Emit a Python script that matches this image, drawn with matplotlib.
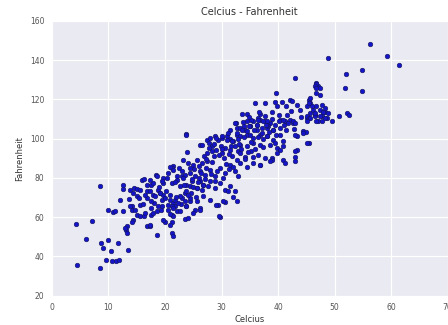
import numpy as np
import matplotlib
matplotlib.use("Agg")
import matplotlib.pyplot as plt
import seaborn as sns

# temperatura en Celcius (x) y Fahrenheit (y)
celcius = [
    4.2, 4.5, 6.0, 7.1, 8.5, 8.5, 8.6, 9.1, 9.6, 10.0, 10.5, 10.7, 11.3, 11.8, 11.7, 13.5,
    10.0, 10.8, 11.2, 12.5, 12.0, 12.5, 12.6, 13.8, 14.6, 15.0, 16.8, 16.8, 13.7, 15.0,
    15.4, 16.8, 14.1, 14.2, 15.0, 15.6, 16.2, 14.4, 14.1, 13.2, 13.1, 13.3, 16.8, 17.3,
    12.9, 17.6, 17.9, 17.3, 15.9, 16.3, 17.6, 17.9, 17.9,
    18.4, 19.7, 19.6, 20.6, 21.5, 21.2, 22.1, 23.0, 18.8, 19.1, 19.7, 19.4, 20.9, 21.5,
    21.8, 23.0, 23.5, 23.8, 21.2, 21.5, 22.1, 20.0, 21.2, 20.9, 19.7, 18.5, 21.2, 21.5,
    21.2, 23.5, 24.1, 23.8, 24.4, 23.8,
    24.4, 25.0, 25.6, 26.2, 26.8, 25.3, 26.2, 29.7, 29.4, 30.6, 32.7,
    23.7, 23.9, 26.2, 27.4, 28.0, 28.8, 29.4, 30.0, 30.9, 31.5, 32.1, 32.7, 32.6,
    27.4, 28.3, 29.1, 30.0, 30.6, 31.5, 32.4, 33.0, 23.2, 24.1, 25.0, 25.6, 26.5,
    20.9, 21.5, 22.4, 23.0, 23.5, 24.4, 25.3, 26.2, 27.1, 28.0, 28.8, 29.7, 30.6, 31.5,
    32.4, 33.0, 17.3, 18.5, 19.4, 20.3, 21.2, 22.1, 22.7, 23.8, 24.7, 25.6, 26.8, 28.0,
    28.8, 29.7, 30.6, 31.5, 32.4, 14.4, 15.6, 16.5, 17.3, 18.2, 19.1, 20.0, 20.9, 21.8,
    22.7, 23.5, 24.4, 25.6, 26.8, 28.0, 29.1, 30.3, 31.2, 32.1, 13.8, 14.7, 15.6, 16.5,
    17.6, 18.5, 19.4, 20.6, 21.5, 22.7, 23.8, 25.0, 26.2, 29.6,
    43.0, 46.8, 47.1, 47.4, 39.6, 35.9, 37.7, 39.5, 40.7, 42.1, 43.3, 43.9, 39.8, 41.5,
    45.4, 45.7, 46.0, 46.8, 47.4, 48.3, 48.9, 45.7, 46.5, 47.7, 45.1, 47.1, 32.4, 34.5,
    35.6, 36.8, 37.7, 38.6, 39.5, 40.4, 41.2, 42.1, 42.7, 31.5, 32.7, 33.9, 35.0, 36.2,
    38.0, 39.2, 41.5, 44.5, 43.3, 45.4, 43.3, 43.0, 38.9, 36.8, 32.1,
    56.2, 48.8, 59.3, 61.4, 52.0, 54.9, 51.9, 54.8, 46.7, 46.5, 46.8, 46.7, 47.4, 45.2,
    47.7, 46.2, 48.0, 48.3, 45.1, 45.4, 46.5, 48.6, 47.7, 49.6, 50.8, 52.2, 52.6, 45.0,
    33.6, 34.5, 42.4, 45.7, 45.4, 46.5, 47.4, 48.0, 48.3, 46.8, 45.7, 45.1, 35.3, 36.5,
    37.7, 38.0, 38.9, 40.1, 40.9, 41.8, 42.7, 43.0, 33.3, 34.2, 35.0, 36.2, 37.1, 38.3,
    39.2, 40.4, 33.3, 34.5, 35.6, 36.8, 38.0, 39.2, 40.4, 40.9, 43.0, 44.5, 45.1, 33.3,
    34.5, 35.6, 36.8, 38.6, 39.8, 40.4, 40.9, 33.3, 34.2, 35.3, 36.5, 37.7, 38.9, 39.8,
    40.9, 43.0, 43.0, 33.3, 34.5, 35.6, 36.8, 38.6, 41.2,
    32.7, 33.6, 34.5, 35.0, 36.2, 37.1, 38.0, 29.1, 30.0, 30.9, 31.8, 26.5, 27.7, 28.3,
    37.4, 38.0, 36.5,
    25.1, 26.9, 27.8, 28.6, 29.9, 31.2, 32.9, 33.8, 34.9, 35.7, 36.9, 37.9, 39.0, 40.2, 41.0, 42.3,
    26.0, 27.2, 28.4, 29.5, 30.4, 31.7, 33.1, 34.0, 35.2, 36.4, 37.4, 38.4, 39.6,
    24.6, 25.9, 27.0, 28.1, 29.2, 30.8, 31.9, 33.5, 34.7, 36.0, 37.3,
    22.9, 24.0, 25.4, 26.6, 27.6, 28.9, 30.2, 31.4, 32.8, 34.1, 35.5,
    20.5, 22.0, 23.3, 24.8, 26.3, 27.5, 28.7, 30.1, 31.3,
    19.0, 20.2, 21.7, 23.1, 24.5, 26.0, 27.3,
    18.0, 19.3, 20.8, 22.3, 16.1, 17.5, 18.7,
    41.6, 42.9, 44.0, 39.4, 36.6, 34.8,
]
fahrenheit = [
    56.7, 35.6, 48.9, 58.3, 34.2, 75.7, 46.8, 44.5, 38.2, 48.3, 42.9, 37.5, 37.8, 38.0, 46.8, 43.4,
    63.6, 62.5, 63.2, 62.9, 68.9, 76.5, 74.3, 74.0, 74.8, 74.3, 76.5, 73.1, 69.2, 70.6,
    69.7, 69.7, 63.8, 65.5, 61.2, 60.4, 60.7, 58.7, 57.3, 55.3, 53.6, 51.9, 55.3, 55.6,
    54.5, 61.2, 62.1, 56.1, 79.1, 79.4, 76.5, 77.4, 71.4,
    81.6, 79.9, 77.4, 82.5, 86.2, 85.0, 80.8, 81.1, 74.0, 72.3, 71.4, 68.9, 68.9, 67.2,
    65.5, 69.7, 72.3, 73.1, 65.5, 64.7, 63.0, 57.8, 57.8, 56.1, 58.7, 51.0, 51.9, 50.5,
    61.2, 59.0, 59.6, 65.8, 68.0, 102.5,
    75.7, 75.4, 74.8, 78.3, 76.5, 63.8, 64.7, 60.1, 66.3, 67.5, 68.0,
    102.0, 93.0, 96.9, 99.4, 100.3, 101.1, 99.4, 100.3, 101.1, 99.8, 98.6, 102.0, 107.9,
    92.7, 93.5, 94.3, 92.7, 95.2, 94.3, 96.0, 93.5, 89.2, 87.6, 86.7, 89.2, 87.6,
    85.8, 84.2, 85.0, 83.3, 81.6, 82.5, 80.8, 83.3, 81.6, 84.2, 80.8, 85.0, 82.5, 86.7,
    83.3, 80.8, 79.1, 80.8, 78.2, 79.9, 77.4, 79.1, 75.7, 76.5, 78.2, 74.8, 76.5, 78.2,
    74.8, 77.4, 74.0, 75.7, 73.1, 72.3, 74.0, 71.4, 73.1, 70.6, 72.3, 69.7, 71.4, 68.9,
    70.6, 68.0, 69.7, 68.0, 70.6, 68.9, 66.3, 68.0, 73.1, 70.3, 65.5, 63.8, 66.3, 62.1,
    64.7, 62.9, 65.5, 63.8, 60.4, 62.9, 65.5, 62.1, 63.8, 60.4,
    130.8, 128.3, 126.9, 125.7, 123.2, 118.1, 118.1, 118.9, 118.9, 119.8, 117.2, 114.7, 116.4, 116.4,
    119.8, 118.1, 116.4, 116.4, 114.7, 113.8, 113.0, 113.0, 112.2, 111.3, 110.5, 108.8, 107.9, 108.8,
    108.8, 109.6, 108.8, 107.9, 107.1, 109.6, 108.8, 109.6, 107.9, 104.5, 105.4, 106.2, 106.2, 107.1,
    105.4, 104.5, 104.5, 103.7, 101.1, 97.7, 94.3, 90.9, 90.1, 86.7, 85.8,
    148.2, 141.3, 142.2, 137.6, 133.0, 135.1, 125.7, 124.4, 127.9, 126.9, 125.7, 123.2, 122.3, 116.7,
    117.2, 114.7, 113.8, 115.6, 111.3, 110.5, 111.3, 110.5, 108.8, 108.8, 111.3, 113.3, 112.2, 103.3,
    112.7, 112.7, 119.4, 120.7, 118.1, 113.0, 111.3, 113.8, 110.5, 108.8, 110.5, 108.8, 109.6, 110.5,
    111.3, 108.8, 110.0, 108.8, 109.6, 107.9, 108.8, 107.9, 105.4, 104.5, 106.2, 107.1, 105.4, 106.2,
    104.5, 105.4, 101.1, 102.0, 100.3, 102.0, 101.1, 99.4, 102.0, 98.6, 102.0, 102.8, 97.7, 96.9,
    96.0, 97.7, 96.9, 96.9, 95.2, 94.3, 96.0, 92.7, 90.9, 93.5, 91.8, 90.1, 89.2, 92.7,
    89.2, 93.5, 88.4, 87.6, 85.8, 87.6, 86.7, 88.4, 87.6,
    102.8, 104.5, 103.7, 102.0, 104.5, 103.1, 101.1, 100.3, 101.1, 99.4, 98.6, 96.9, 97.7, 96.0,
    108.8, 107.1, 109.6,
    84.5, 91.2, 95.0, 97.4, 96.2, 103.0, 99.8, 108.3, 111.0, 104.2, 112.4, 106.9, 113.6, 112.1, 106.7, 113.9,
    80.1, 85.3, 88.0, 91.6, 90.2, 96.5, 97.3, 100.9, 98.2, 100.6, 99.7, 103.4, 101.9,
    72.2, 77.8, 79.6, 82.0, 83.7, 87.3, 91.0, 94.8, 93.1, 94.6, 95.9,
    66.8, 71.2, 70.1, 73.8, 75.9, 78.4, 80.0, 84.6, 88.9, 89.6, 90.8,
    66.0, 70.2, 76.3, 79.5, 82.4, 88.6, 91.3, 94.9, 92.0,
    75.6, 73.5, 78.0, 79.8, 84.9, 86.2, 89.8,
    67.4, 63.6, 61.5, 67.3, 66.8, 68.2, 65.9,
    111.9, 104.9, 110.8, 97.9, 113.8, 106.6,
]

sns.set_style("darkgrid")
plt.rcParams['font.family'] = ['DejaVu Sans']

fig = plt.figure(figsize=(4.48, 3.25), dpi=100)
ax = fig.add_axes([0.116, 0.090, 0.883, 0.846])

ax.scatter(celcius, fahrenheit, s=11, c='#1414c8', edgecolors='#14145a', linewidths=0.4)

ax.set_xlim(0, 70)
ax.set_ylim(20, 160)
ax.set_xticks(np.arange(0, 71, 10))
ax.set_yticks(np.arange(20, 161, 20))
ax.tick_params(labelsize=5.5, colors='#555555', pad=2)
ax.set_title("Celcius - Fahrenheit", fontsize=7, color='#333333', pad=4)
ax.set_xlabel("Celcius", fontsize=6, color='#333333', labelpad=2)
ax.set_ylabel("Fahrenheit", fontsize=6, color='#333333', labelpad=4)

plt.savefig("out.png", dpi=100)
